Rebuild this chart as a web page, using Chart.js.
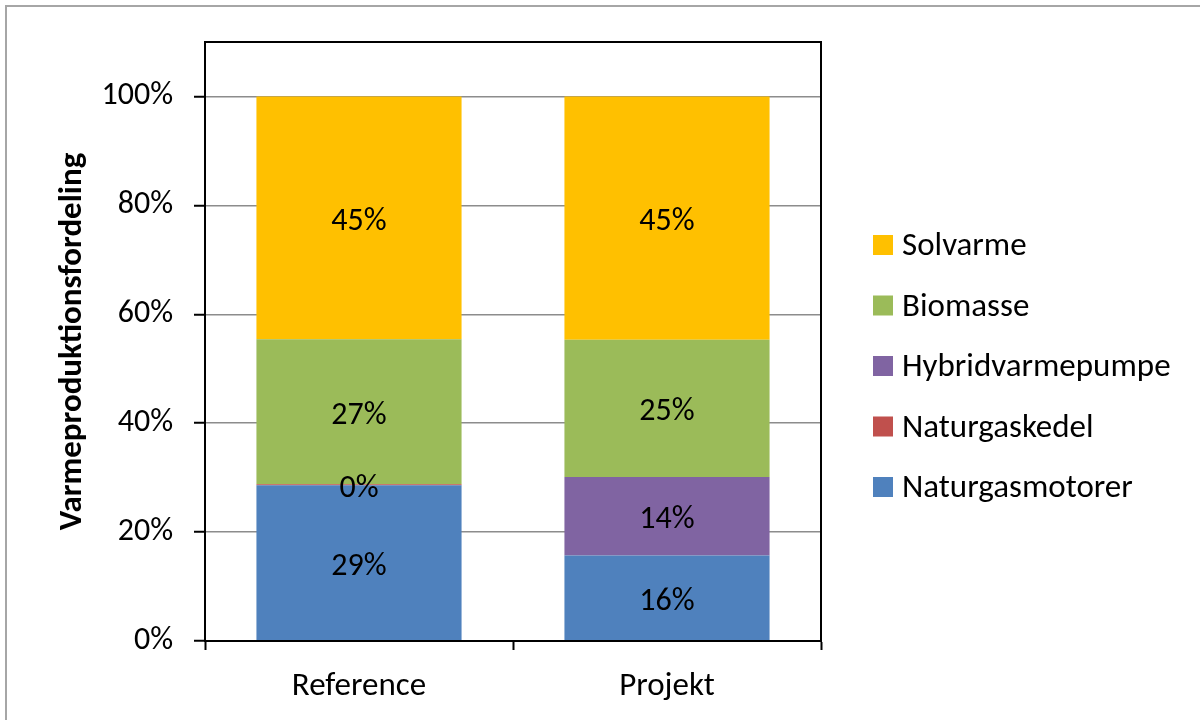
<!DOCTYPE html>
<html>
<head>
<meta charset="utf-8">
<script src="https://cdn.jsdelivr.net/npm/chart.js@4/dist/chart.umd.min.js"></script>
<style>
  html, body { margin: 0; padding: 0; background: #fff; }
  #wrap { width: 1200px; height: 720px; position: relative; }
</style>
</head>
<body>
<div id="wrap"><canvas id="chart" width="1200" height="720"></canvas></div>
<script>
// Kategorier og serier (andel i %)
const categories = ['Reference', 'Projekt'];
const naturgasmotorer = [28.6, 15.7];
const naturgaskedel = [0.2, null];
const hybridvarmepumpe = [null, 14.4];
const biomasse = [26.6, 25.2];
const solvarme = [44.6, 44.7];
const yTicks = [0, 20, 40, 60, 80, 100];

const FONT = 'Carlito, Lato, sans-serif';

// Etiketter midt i hver søjledel
const barLabels = {
    id: 'barLabels',
    afterDatasetsDraw(chart) {
        const ctx = chart.ctx;
        ctx.save();
        ctx.font = '32px ' + FONT;
        ctx.fillStyle = '#000';
        ctx.textAlign = 'center';
        ctx.textBaseline = 'middle';
        chart.data.datasets.forEach((ds, i) => {
            const meta = chart.getDatasetMeta(i);
            meta.data.forEach((bar, j) => {
                const v = ds.data[j];
                if (v === null || v === undefined) return;
                ctx.fillText(Math.round(v) + '%', bar.x, (bar.y + bar.base) / 2 + 4);
            });
        });
        ctx.restore();
    }
};

// Ramme om plotområdet, ydre ramme og forklaring
const frame = {
    id: 'frame',
    beforeDraw(chart) {
        const ctx = chart.ctx;
        ctx.save();
        ctx.strokeStyle = '#a6a6a6';
        ctx.lineWidth = 2;
        ctx.beginPath();
        ctx.moveTo(6, 720);
        ctx.lineTo(6, 6);
        ctx.lineTo(1200, 6);
        ctx.stroke();
        ctx.restore();
    },
    afterDraw(chart) {
        const ctx = chart.ctx;
        const a = chart.chartArea;
        ctx.save();
        ctx.strokeStyle = '#000';
        ctx.lineWidth = 2;
        ctx.strokeRect(a.left, a.top, a.right - a.left, a.bottom - a.top);

        // forklaring i omvendt rækkefølge
        const items = chart.data.datasets.slice().reverse();
        ctx.font = '33px ' + FONT;
        ctx.textBaseline = 'middle';
        ctx.textAlign = 'left';
        items.forEach((ds, i) => {
            const y = 245 + i * 60.5;
            ctx.fillStyle = ds.backgroundColor;
            ctx.fillRect(873, y - 10, 20, 20);
            ctx.fillStyle = '#000';
            ctx.fillText(ds.label, 902, y + 2);
        });
        ctx.restore();
    }
};

new Chart(document.getElementById('chart'), {
    type: 'bar',
    data: {
        labels: categories,
        datasets: [
            { label: 'Naturgasmotorer', data: naturgasmotorer, backgroundColor: '#4f81bd' },
            { label: 'Naturgaskedel', data: naturgaskedel, backgroundColor: '#c0504d' },
            { label: 'Hybridvarmepumpe', data: hybridvarmepumpe, backgroundColor: '#8064a2' },
            { label: 'Biomasse', data: biomasse, backgroundColor: '#9bbb59' },
            { label: 'Solvarme', data: solvarme, backgroundColor: '#ffc000' }
        ]
    },
    options: {
        responsive: false,
        animation: false,
        layout: { padding: { top: 42, right: 379, bottom: 0, left: 0 } },
        datasets: {
            bar: { categoryPercentage: 1, barPercentage: 0.666, borderWidth: 0 }
        },
        plugins: {
            legend: { display: false },
            tooltip: { enabled: false }
        },
        scales: {
            x: {
                stacked: true,
                afterFit: s => { s.height = 79; },
                grid: {
                    offset: true,
                    drawOnChartArea: false,
                    drawTicks: true,
                    tickLength: 9,
                    tickColor: '#000',
                    tickWidth: 2
                },
                border: { color: '#000', width: 2 },
                ticks: {
                    color: '#000',
                    padding: 17,
                    font: { family: FONT, size: 33 }
                }
            },
            y: {
                stacked: true,
                min: 0,
                max: 110,
                afterFit: s => { s.width = 205; },
                afterBuildTicks: s => { s.ticks = yTicks.map(v => ({ value: v })); },
                grid: {
                    color: '#8c8c8c',
                    lineWidth: 1.5,
                    tickLength: 11,
                    tickColor: '#000',
                    tickWidth: 2
                },
                border: { color: '#000', width: 2 },
                ticks: {
                    color: '#000',
                    padding: 21,
                    font: { family: FONT, size: 32 },
                    callback: v => v + '%'
                },
                title: {
                    display: true,
                    text: 'Varmeproduktionsfordeling',
                    color: '#000',
                    font: { family: FONT, size: 33, weight: 'bold' },
                    padding: { top: 53, bottom: 0 }
                }
            }
        }
    },
    plugins: [barLabels, frame]
});
</script>
</body>
</html>
